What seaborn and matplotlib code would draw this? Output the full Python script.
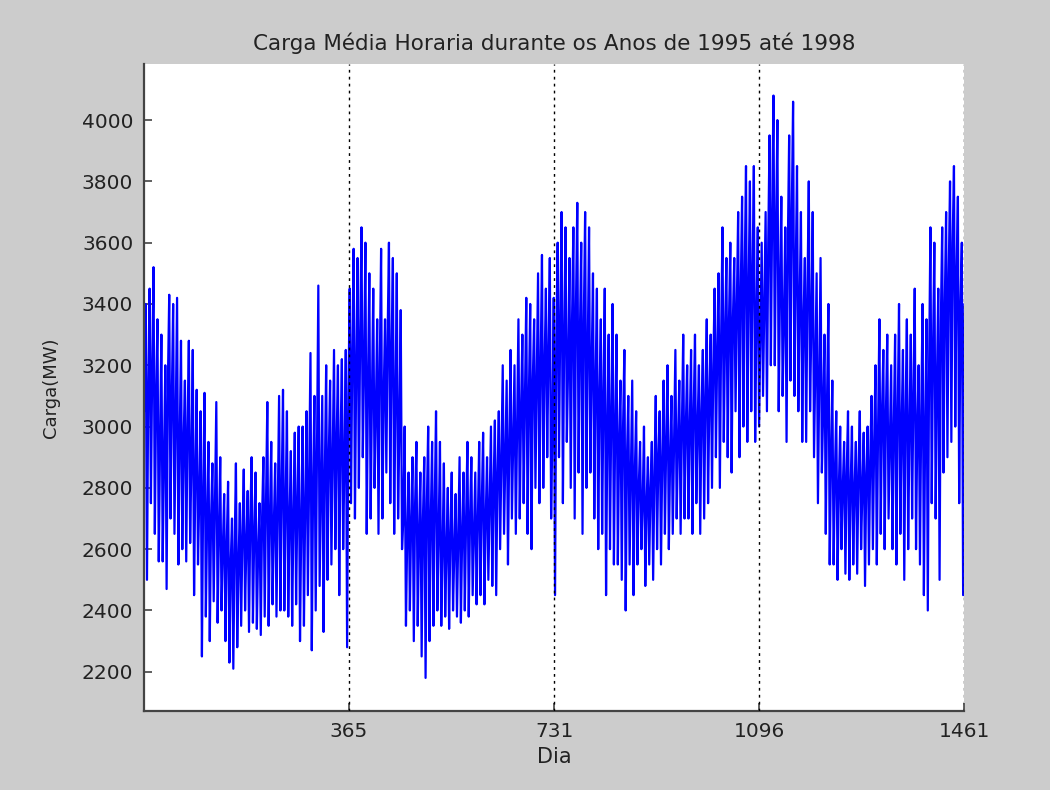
import numpy as np
import pandas as pd
import matplotlib
matplotlib.use("Agg")
import matplotlib.pyplot as plt
import seaborn as sns

# Weekly readings (MW): weekday peak, weekday level, weekend dip
week_high = [
    3400, 3450, 3520, 3350, 3300, 3200, 3430, 3400, 3420, 3280,
    3150, 3280, 3250, 3120, 3050, 3110, 2950, 2880, 3080, 2900,
    2780, 2820, 2700, 2880, 2750, 2860, 2790, 2900, 2850, 2750,
    2900, 3080, 2950, 2880, 3100, 3120, 3050, 2920, 2980, 3000,
    3000, 3050, 3240, 3100, 3460, 3100, 3200, 3150, 3250, 3200,
    3220, 3250, 3450, 3580, 3550, 3650, 3600, 3500, 3450, 3350,
    3580, 3350, 3600, 3550, 3500, 3380, 3000, 2850, 2900, 2950,
    2850, 2900, 3000, 2950, 3050, 2950, 2880, 2800, 2850, 2780,
    2900, 2850, 2950, 2900, 2850, 2950, 2980, 2900, 3000, 3020,
    3050, 3200, 3150, 3250, 3200, 3350, 3300, 3420, 3400, 3350,
    3500, 3560, 3450, 3550, 3420, 3600, 3700, 3650, 3550, 3650,
    3730, 3600, 3700, 3650, 3500, 3450, 3350, 3450, 3300, 3400,
    3300, 3150, 3250, 3100, 3150, 3050, 2950, 3000, 2900, 2950,
    3100, 3050, 3150, 3200, 3100, 3250, 3150, 3300, 3200, 3250,
    3300, 3200, 3250, 3350, 3300, 3450, 3500, 3650, 3550, 3600,
    3550, 3700, 3750, 3850, 3800, 3850, 3650, 3600, 3700, 3950,
    4080, 4000, 3750, 3650, 3950, 4060, 3850, 3700, 3550, 3800,
    3700, 3500, 3550, 3300, 3400, 3150, 3050, 3000, 2950, 3050,
    3000, 2950, 3050, 2980, 3000, 3100, 3200, 3350, 3250, 3300,
    3200, 3300, 3400, 3250, 3350, 3300, 3450, 3200, 3400, 3350,
    3650, 3600, 3450, 3650, 3700, 3800, 3850, 3750, 3600,
]
week_mid = [
    3050, 3150, 3200, 3100, 2950, 2900, 3150, 3100, 3050, 2950,
    2950, 3000, 2900, 2850, 2780, 2800, 2700, 2700, 2750, 2650,
    2600, 2620, 2550, 2600, 2550, 2650, 2620, 2700, 2650, 2600,
    2700, 2750, 2700, 2680, 2750, 2800, 2750, 2700, 2720, 2750,
    2700, 2750, 2850, 2800, 2950, 2800, 2850, 2900, 2900, 2950,
    2950, 2900, 3100, 3250, 3200, 3300, 3200, 3150, 3100, 3050,
    3200, 3100, 3300, 3250, 3100, 3000, 2700, 2650, 2700, 2750,
    2650, 2700, 2750, 2700, 2750, 2650, 2600, 2600, 2650, 2600,
    2650, 2650, 2700, 2700, 2650, 2700, 2750, 2700, 2750, 2800,
    2850, 2900, 2900, 2950, 2950, 3000, 3050, 3100, 3100, 3150,
    3150, 3200, 3200, 3250, 3000, 3300, 3350, 3300, 3200, 3350,
    3400, 3300, 3350, 3250, 3200, 3150, 3100, 3100, 3000, 3050,
    3000, 2950, 3000, 2900, 2850, 2850, 2800, 2750, 2750, 2800,
    2850, 2900, 2900, 2950, 2900, 2950, 2950, 3000, 3000, 3000,
    3050, 3000, 3050, 3100, 3100, 3200, 3250, 3300, 3300, 3350,
    3350, 3400, 3450, 3500, 3450, 3500, 3350, 3300, 3400, 3600,
    3700, 3650, 3450, 3350, 3600, 3700, 3500, 3400, 3350, 3450,
    3350, 3200, 3150, 3050, 3100, 2900, 2850, 2800, 2800, 2850,
    2800, 2800, 2850, 2800, 2850, 2900, 2950, 3000, 3050, 3050,
    2950, 3000, 3050, 3000, 3050, 3000, 3100, 3000, 3050, 3000,
    3200, 3250, 3150, 3350, 3400, 3500, 3600, 3500, 3400,
]
week_low = [
    2500, 2750, 2650, 2560, 2560, 2470, 2700, 2650, 2550, 2600,
    2560, 2620, 2450, 2550, 2250, 2380, 2300, 2430, 2360, 2400,
    2300, 2230, 2210, 2280, 2350, 2400, 2330, 2360, 2340, 2320,
    2380, 2350, 2420, 2380, 2400, 2400, 2380, 2350, 2420, 2300,
    2350, 2450, 2270, 2400, 2480, 2330, 2500, 2550, 2600, 2450,
    2600, 2280, 2750, 2700, 2800, 2900, 2650, 2700, 2800, 2650,
    2700, 2850, 2750, 2650, 2700, 2600, 2350, 2400, 2300, 2350,
    2250, 2180, 2300, 2350, 2400, 2350, 2380, 2340, 2400, 2380,
    2360, 2400, 2380, 2450, 2420, 2450, 2420, 2500, 2480, 2450,
    2600, 2650, 2550, 2700, 2650, 2700, 2750, 2650, 2600, 2800,
    2750, 2800, 2900, 2700, 2450, 2900, 2750, 2950, 2800, 2700,
    2850, 2650, 2800, 2850, 2700, 2600, 2650, 2450, 2600, 2550,
    2550, 2500, 2400, 2550, 2450, 2550, 2600, 2480, 2550, 2500,
    2600, 2550, 2650, 2600, 2650, 2700, 2650, 2700, 2700, 2650,
    2750, 2650, 2700, 2750, 2800, 2900, 2800, 2950, 2900, 2850,
    3050, 2900, 3000, 2950, 3050, 2950, 3000, 3100, 3050, 3200,
    3200, 3050, 3100, 2950, 3150, 3100, 3050, 2950, 2950, 3050,
    2900, 2750, 2850, 2650, 2550, 2550, 2500, 2600, 2520, 2500,
    2550, 2520, 2600, 2480, 2550, 2600, 2550, 2650, 2600, 2700,
    2600, 2550, 2650, 2500, 2600, 2700, 2600, 2550, 2450, 2400,
    2750, 2700, 2500, 2850, 2900, 2950, 3000, 2750, 2450,
]
last_day_value = 3400

x_ticks = [365, 731, 1096, 1461]
title_text = "Carga Média Horaria durante os Anos de 1995 até 1998"
x_label = "Dia"
y_label = "Carga(MW)"

# Build the series: three readings per week, in order level -> peak -> dip
carga = []
for m, h, l in zip(week_mid, week_high, week_low):
    carga.extend([m, h, l])
carga.append(last_day_value)
dia = np.linspace(1, 1461, len(carga))
df = pd.DataFrame({"Dia": dia, "Carga": carga})

sns.set_theme(style="white")
plt.rcParams["font.family"] = ["DejaVu Sans"]

fig = plt.figure(figsize=(10.5, 7.9), dpi=100, facecolor="#cccccc")
ax = fig.add_axes([0.1375, 0.1, 0.781, 0.819])
ax.set_facecolor("white")

sns.lineplot(data=df, x="Dia", y="Carga", ax=ax, color="#0000ff",
             linewidth=1.6, estimator=None, sort=False)

ax.set_xlim(1, 1461)
ax.set_ylim(2072, 4183)
ax.set_xticks(x_ticks)
ax.set_xticklabels([str(t) for t in x_ticks])
ax.set_yticks(np.arange(2200, 4001, 200))

for t in x_ticks:
    ax.axvline(t, color="black", linestyle=(0, (2, 3)), linewidth=1.0, zorder=3)

for side in ["top", "right"]:
    ax.spines[side].set_visible(False)
for side in ["left", "bottom"]:
    ax.spines[side].set_color("#444444")
    ax.spines[side].set_linewidth(1.6)

ax.tick_params(axis="both", direction="in", length=6, width=1.2, color="#444444",
               labelsize=14.5, labelcolor="#222222", pad=8, left=True, bottom=True)

ax.set_title(title_text, fontsize=15.5, color="#222222", pad=10)
ax.set_xlabel(x_label, fontsize=15, color="#222222", labelpad=4)
ax.set_ylabel(y_label, fontsize=13, color="#222222", labelpad=16)

fig.savefig("out.png", dpi=100, facecolor=fig.get_facecolor())
